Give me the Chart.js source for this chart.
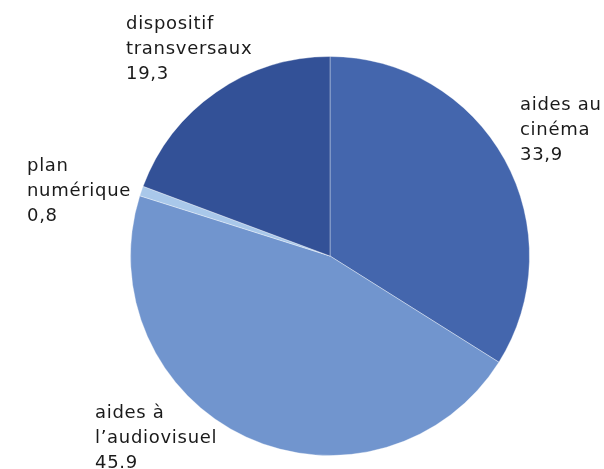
<!DOCTYPE html>
<html>
<head>
<meta charset="utf-8">
<script src="https://cdn.jsdelivr.net/npm/chart.js@4"></script>
<style>
  html, body { margin: 0; padding: 0; background: #fff; }
  #wrap { width: 604px; height: 469px; }
</style>
</head>
<body>
<div id="wrap"><canvas id="Chart1"></canvas></div>
<script>
const categories = ["aides au cinéma", "aides à l’audiovisuel", "plan numérique", "dispositif transversaux"];
const values = [33.9, 45.9, 0.8, 19.3];
const valueLabels = ["33,9", "45.9", "0,8", "19,3"];
const labelLines = [["aides au", "cinéma"], ["aides à", "l’audiovisuel"], ["plan", "numérique"], ["dispositif", "transversaux"]];
const sliceColors = ["#4466ad", "#7195ce", "#a9c8ea", "#335197"];

// where each text block starts (left x, first baseline y)
const labelPos = [[520, 110], [95, 418], [27, 171], [126, 29]];

const textLabels = {
  id: "textLabels",
  afterDraw(chart) {
    const c = chart.ctx;
    c.save();
    c.font = "18px 'DejaVu Sans'";
    c.letterSpacing = "0.7px";
    c.fillStyle = "#1a1a1a";
    c.textAlign = "left";
    c.textBaseline = "alphabetic";
    labelLines.forEach((lines, i) => {
      const [x, y] = labelPos[i];
      lines.concat([valueLabels[i]]).forEach((t, j) => c.fillText(t, x, y + j * 25));
    });
    c.restore();
  }
};

new Chart(document.getElementById("Chart1"), {
  type: "pie",
  data: {
    labels: categories,
    datasets: [{
      data: values,
      backgroundColor: sliceColors,
      borderColor: "rgba(255,255,255,0.35)",
      borderWidth: 1
    }]
  },
  options: {
    responsive: true,
    maintainAspectRatio: false,
    animation: false,
    layout: { padding: { left: 130, right: 74, top: 56, bottom: 13 } },
    plugins: {
      legend: { display: false },
      tooltip: { enabled: false }
    }
  },
  plugins: [textLabels]
});
</script>
</body>
</html>
